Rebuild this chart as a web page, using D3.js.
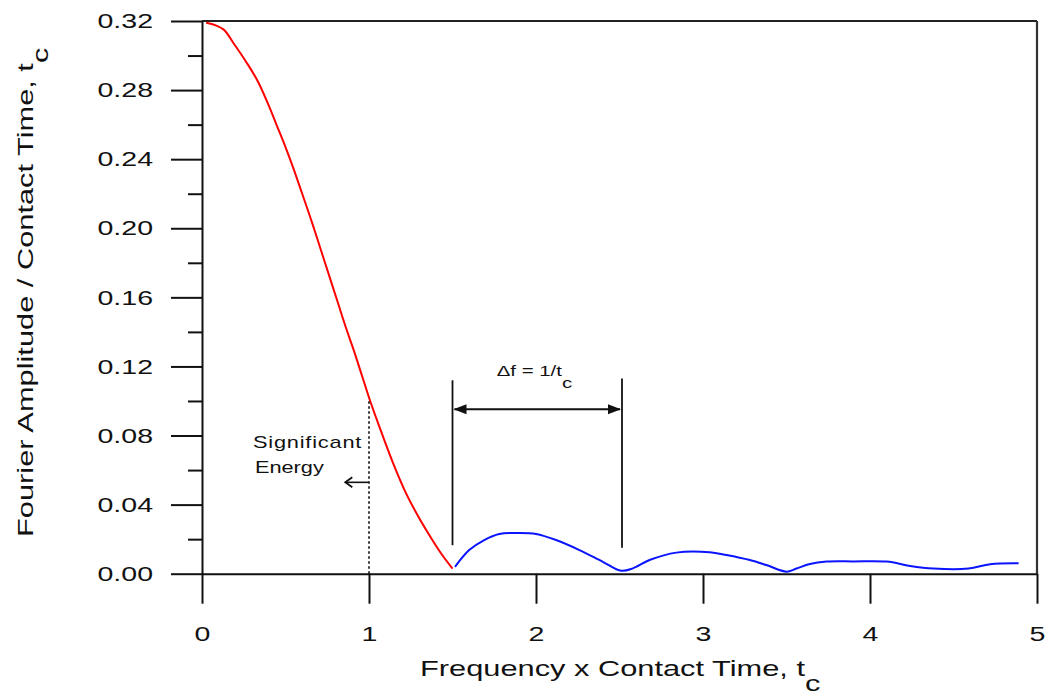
<!DOCTYPE html>
<html>
<head>
<meta charset="utf-8">
<script src="https://cdn.jsdelivr.net/npm/d3@7"></script>
<style>
  html, body { margin: 0; padding: 0; background: #fff; }
  svg { display: block; }
  text { font-family: "Liberation Sans", Arial, sans-serif; fill: #111; }
</style>
</head>
<body>
<svg id="chart" width="1049" height="698"></svg>
<script>
// Normalised frequency (f * tc) and Fourier amplitude / tc for the half-sine pulse
const mainLobeF = [0.025, 0.13, 0.19, 0.26, 0.34, 0.40, 0.45, 0.50, 0.55, 0.60, 0.66, 0.71, 0.76, 0.81, 0.86, 0.91, 0.96, 1.00, 1.07, 1.14, 1.21, 1.29, 1.37, 1.43, 1.50];
const mainLobeA = [0.319, 0.315, 0.307, 0.297, 0.284, 0.271, 0.259, 0.247, 0.234, 0.220, 0.203, 0.188, 0.173, 0.158, 0.143, 0.129, 0.114, 0.102, 0.083, 0.065, 0.049, 0.034, 0.021, 0.012, 0.003];

const sideLobeF = [1.515, 1.60, 1.69, 1.78, 1.90, 2.00, 2.12, 2.26, 2.40, 2.51, 2.58, 2.68, 2.84, 3.04, 3.14, 3.28, 3.38, 3.50, 3.56, 3.64, 3.74, 3.90, 4.10, 4.24, 4.38, 4.59, 4.72, 4.89];
const sideLobeA = [0.004, 0.0137, 0.0195, 0.0230, 0.0236, 0.0230, 0.0195, 0.0137, 0.0069, 0.0017, 0.0031, 0.0079, 0.0122, 0.0124, 0.0108, 0.0079, 0.005, 0.0012, 0.003, 0.0056, 0.007, 0.0071, 0.007, 0.0045, 0.003, 0.003, 0.0055, 0.006];

const xTicks = [0, 1, 2, 3, 4, 5];
const yTicks = [0.00, 0.04, 0.08, 0.12, 0.16, 0.20, 0.24, 0.28, 0.32];
const yMinorTicks = [0.02, 0.06, 0.10, 0.14, 0.18, 0.22, 0.26, 0.30];

// Annotation anchors (data units)
const cutoffF = 1.0;          // significant-energy limit
const cutoffA = 0.101;
const lobeEdges = [1.5, 2.515]; // zeros bounding one side lobe
const lobeEdgeTop = [0.112, 0.113];
const lobeEdgeBottom = [0.0165, 0.015];
const spanArrowA = 0.0952;

const svg = d3.select("#chart");
const plot = { left: 202, right: 1037, top: 21, bottom: 573.7 };
const SX = 1.36;  // horizontal glyph widening of the chart's lettering
const SXT = 1.40; // widening for the axis titles

const x = d3.scaleLinear().domain([0, 5]).range([plot.left, plot.right]);
const y = d3.scaleLinear().domain([0, 0.32]).range([plot.bottom, plot.top]);

// Frame: top and right edges
svg.append("line").attr("x1", plot.left).attr("x2", plot.right)
  .attr("y1", plot.top).attr("y2", plot.top)
  .attr("stroke", "#222").attr("stroke-width", 2);
svg.append("line").attr("x1", plot.right).attr("x2", plot.right)
  .attr("y1", plot.top).attr("y2", plot.bottom)
  .attr("stroke", "#333").attr("stroke-width", 2.2);

// Y axis, major and minor ticks
const yAxisG = svg.append("g").attr("transform", `translate(${plot.left},0)`)
  .call(d3.axisLeft(y).tickValues(yTicks).tickSize(31).tickSizeOuter(0)
    .tickPadding(18).tickFormat(d3.format(".2f")));
svg.append("g").attr("transform", `translate(${plot.left},0)`)
  .call(d3.axisLeft(y).tickValues(yMinorTicks).tickSize(14).tickSizeOuter(0).tickFormat(""))
  .call(g => g.select(".domain").remove());

// X axis
const xAxisG = svg.append("g").attr("transform", `translate(0,${plot.bottom})`)
  .call(d3.axisBottom(x).tickValues(xTicks).tickSize(30).tickSizeOuter(0)
    .tickPadding(22).tickFormat(d3.format("d")));

svg.selectAll(".tick line, .domain").attr("stroke", "#111").attr("stroke-width", 2);

yAxisG.selectAll(".tick text")
  .attr("font-size", 21).attr("font-family", null).attr("fill", "#111")
  .attr("x", -49 / SX).attr("transform", `scale(${SX},1)`);
xAxisG.selectAll(".tick text")
  .attr("font-size", 21).attr("font-family", null).attr("fill", "#111")
  .attr("transform", `scale(${SX},1)`);
svg.selectAll(".tick text").style("font-family", '"Liberation Sans", Arial, sans-serif');

// Curves
const mainLine = d3.line().x(d => x(d[0])).y(d => y(d[1])).curve(d3.curveMonotoneX);
const sideLine = d3.line().x(d => x(d[0])).y(d => y(d[1])).curve(d3.curveCatmullRom.alpha(0.5));
svg.append("path").datum(d3.zip(mainLobeF, mainLobeA))
  .attr("d", mainLine).attr("fill", "none").attr("stroke", "#ff0000").attr("stroke-width", 2);
svg.append("path").datum(d3.zip(sideLobeF, sideLobeA))
  .attr("d", sideLine).attr("fill", "none").attr("stroke", "#0a14ff").attr("stroke-width", 2);

// Helper for widened text at an absolute point
function wideText(px, py, size, sx) {
  return svg.append("text")
    .attr("transform", `translate(${px},${py}) scale(${sx || SX},1)`)
    .attr("font-size", size);
}

// Axis titles
const xt = wideText(420, 676, 22, SXT);
xt.append("tspan").text("Frequency x Contact Time, t");
xt.append("tspan").attr("dy", 15).text("c");

const yt = svg.append("text")
  .attr("transform", `translate(33,537) rotate(-90) scale(${SXT},1)`)
  .attr("font-size", 22);
yt.append("tspan").text("Fourier Amplitude / Contact Time, t");
yt.append("tspan").attr("dy", 15).text("c");

// Significant-energy marker
svg.append("line")
  .attr("x1", x(cutoffF)).attr("x2", x(cutoffF))
  .attr("y1", y(0)).attr("y2", y(cutoffA))
  .attr("stroke", "#111").attr("stroke-width", 1.6).attr("stroke-dasharray", "2.5,2.5");
wideText(x(0.305), y(0.0727), 16).attr("letter-spacing", 0.6).text("Significant");
wideText(x(0.317), y(0.0583), 16).text("Energy");
const arrowY = y(0.0529);
svg.append("line").attr("x1", x(cutoffF)).attr("x2", x(0.858))
  .attr("y1", arrowY).attr("y2", arrowY).attr("stroke", "#111").attr("stroke-width", 1.6);
svg.append("path")
  .attr("d", `M${x(0.858) + 7},${arrowY - 5} L${x(0.858)},${arrowY} L${x(0.858) + 7},${arrowY + 5}`)
  .attr("fill", "none").attr("stroke", "#111").attr("stroke-width", 1.8);

// Side-lobe width marker
lobeEdges.forEach((f, i) => {
  svg.append("line").attr("x1", x(f)).attr("x2", x(f))
    .attr("y1", y(lobeEdgeTop[i])).attr("y2", y(lobeEdgeBottom[i]))
    .attr("stroke", "#111").attr("stroke-width", 1.8);
});
const spanY = y(spanArrowA);
const xl = x(lobeEdges[0]), xr = x(lobeEdges[1]);
svg.append("line").attr("x1", xl + 2).attr("x2", xr - 2)
  .attr("y1", spanY).attr("y2", spanY).attr("stroke", "#111").attr("stroke-width", 2);
svg.append("path")
  .attr("d", `M${xl + 1},${spanY} L${xl + 14},${spanY - 5} L${xl + 14},${spanY + 5} Z`)
  .attr("fill", "#111");
svg.append("path")
  .attr("d", `M${xr - 1},${spanY} L${xr - 14},${spanY - 5} L${xr - 14},${spanY + 5} Z`)
  .attr("fill", "#111");
const dl = wideText(x(1.765), y(0.1144), 15);
dl.append("tspan").text("Δf = 1/t");
dl.append("tspan").attr("dy", 12).text("c");
</script>
</body>
</html>
